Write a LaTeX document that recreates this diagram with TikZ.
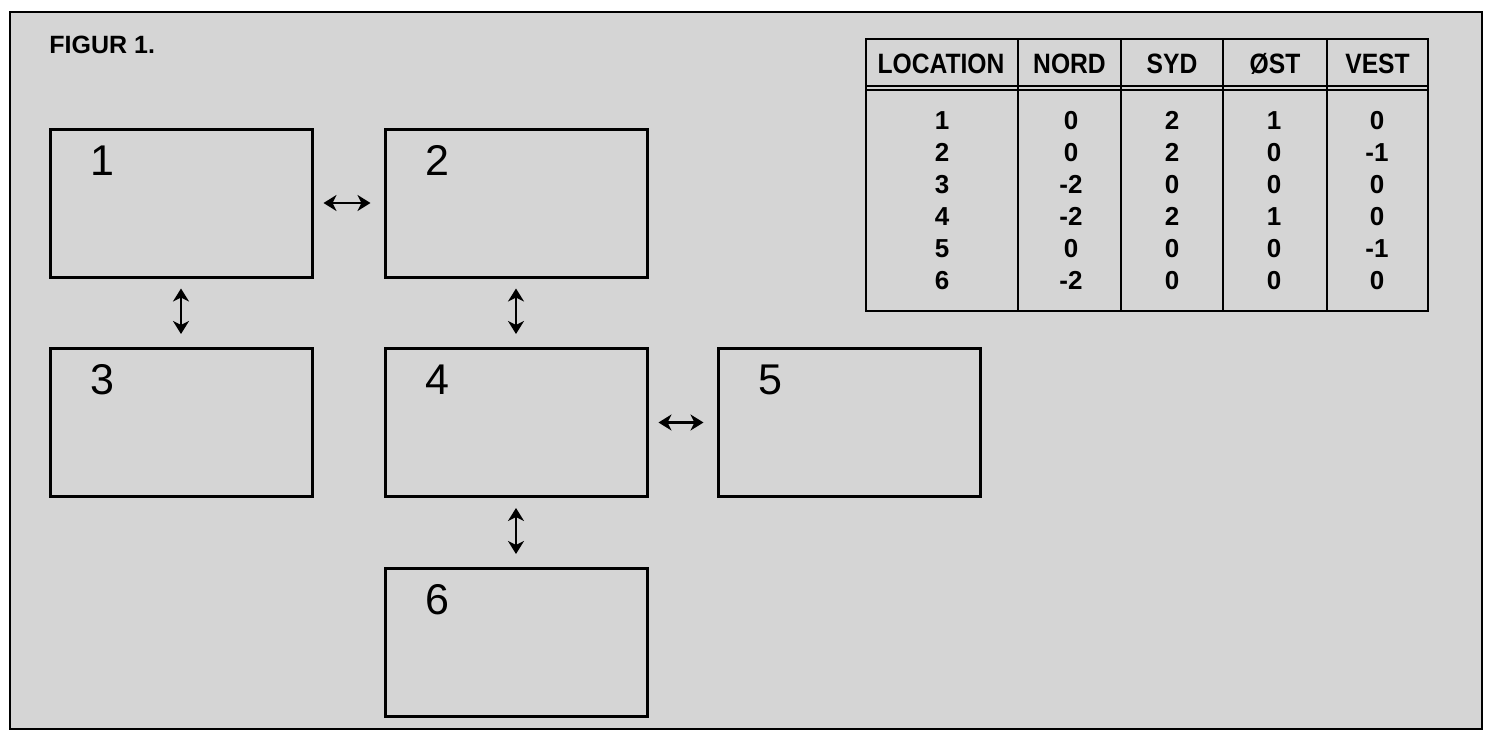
\documentclass[tikz,border=0pt]{standalone}
\usepackage{fontspec}
\setmainfont{Liberation Sans}
\newfontfamily\condfont{Liberation Sans}[FakeStretch=0.88]
\usetikzlibrary{arrows.meta}
\definecolor{paper}{RGB}{213,213,213}
\tikzset{
  roombox/.style={draw=black, line width=1.5pt, rectangle, minimum width=131pt, minimum height=74pt, inner sep=0pt},
  roomnum/.style={font=\fontsize{21.5}{24}\selectfont, inner sep=0pt, anchor=center},
  dblarrow/.style={{Stealth[length=6.5pt,width=8pt,inset=2pt]}-{Stealth[length=6.5pt,width=8pt,inset=2pt]}, line width=1.2pt, shorten <=5pt, shorten >=6.5pt},
  tabline/.style={line width=1pt, black},
  tabhead/.style={font=\condfont\fontsize{14}{16}\selectfont\bfseries, inner sep=0pt, anchor=base},
  tabcell/.style={font=\fontsize{13}{15}\selectfont\bfseries, inner sep=0pt, anchor=base},
}
\begin{document}
\begin{tikzpicture}[x=0.5pt,y=-0.5pt]
\useasboundingbox (0,0) rectangle (1494,739);
\fill[white] (0,0) rectangle (1494,739);
\fill[paper] (10,12) rectangle (1482,729);
\draw[line width=1pt] (10,12) rectangle (1482,729);

\node[anchor=west, font=\fontsize{12.5}{14}\selectfont\bfseries, inner sep=0pt] (title) at (49,45) {FIGUR 1.};

% rooms
\node[roombox] (b1) at (181,203) {};
\node[roombox] (b2) at (516,203) {};
\node[roombox] (b3) at (181,422.5) {};
\node[roombox] (b4) at (516,422.5) {};
\node[roombox] (b5) at (849,422.5) {};
\node[roombox] (b6) at (516,642.5) {};

\foreach \i in {1,...,6} {
  \node[roomnum] (n\i) at ([shift={(54,33)}]b\i.north west) {\i};
}

% connectors
\draw[dblarrow] (b1) -- (b2);
\draw[dblarrow] (b4) -- (b5);
\draw[dblarrow] (b1) -- (b3);
\draw[dblarrow] (b2) -- (b4);
\draw[dblarrow] (b4) -- (b6);

% table
\draw[tabline, line width=1.2pt] (866,39) rectangle (1428,311);
\draw[tabline] (866,86) -- (1428,86);
\draw[tabline] (866,90) -- (1428,90);
\foreach \x in {1018,1121,1223,1327} {
  \draw[tabline] (\x,39) -- (\x,311);
}
\node[tabhead] (h1) at (941,73) {LOCATION};
\node[tabhead] (h2) at (1069.5,73) {NORD};
\node[tabhead] (h3) at (1172,73) {SYD};
\node[tabhead] (h4) at (1275,73) {ØST};
\node[tabhead] (h5) at (1377.5,73) {VEST};

\foreach \r/\a/\b/\c/\d [count=\k] in {1/0/2/1/0, 2/0/2/0/-1, 3/-2/0/0/0, 4/-2/2/1/0, 5/0/0/0/-1, 6/-2/0/0/0} {
  \pgfmathsetmacro{\yy}{129+32*(\k-1)}
  \node[tabcell] (c\k a) at (942,\yy) {\r};
  \node[tabcell] (c\k b) at (1071,\yy) {\a};
  \node[tabcell] (c\k c) at (1172,\yy) {\b};
  \node[tabcell] (c\k d) at (1274,\yy) {\c};
  \node[tabcell] (c\k e) at (1377,\yy) {\d};
}
\end{tikzpicture}
\end{document}
